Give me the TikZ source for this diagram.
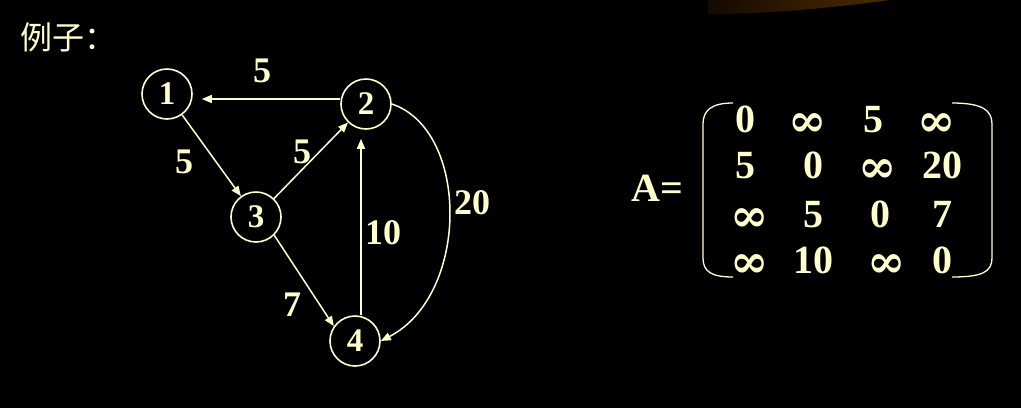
\documentclass[tikz,border=0pt]{standalone}
\usepackage{fontspec}
\setmainfont{Liberation Serif}
\newfontfamily\cjkfont{Noto Sans CJK SC}
\newfontfamily\inffont{DejaVu Serif}
\usetikzlibrary{arrows.meta,positioning}
\definecolor{cream}{HTML}{FFFFCC}
\definecolor{glowdark}{HTML}{140A00}
\definecolor{glowbrown}{HTML}{4E2A00}
\newcommand{\infs}{\raisebox{-4pt}{\inffont\bfseries\fontsize{46}{46}\selectfont ∞}}
\tikzset{
  vert/.style={circle,draw=cream,line width=1.6pt,text=cream,
    minimum size=50pt,inner sep=0pt,font=\fontsize{33}{33}\selectfont\bfseries},
  edgearr/.style={-{Triangle[length=10pt,width=8pt]},line width=1.5pt,color=cream},
  wlabel/.style={text=cream,inner sep=0pt,font=\fontsize{36}{36}\selectfont\bfseries},
  matentry/.style={text=cream,inner sep=0pt,anchor=base,font=\fontsize{40}{40}\selectfont\bfseries},
  brkline/.style={line width=1.3pt,color=cream},
}

\begin{document}
\begin{tikzpicture}[x=1pt,y=-1pt]
  \fill[black] (0,0) rectangle (1021,408);
  \useasboundingbox (0,0) rectangle (1021,408);
  % glow at the top
  \fill[left color=glowdark,right color=glowbrown]
    (708,0) -- (890,0) .. controls (830,8) and (770,14) .. (708,14) -- cycle;

  \node[text=cream,anchor=west,inner sep=0pt,font=\cjkfont\fontsize{32}{32}\selectfont] (title) at (20,37) {例子：};

  % graph
  \node[vert] (v1) at (167,94) {1};
  \node[vert] (v2) at (366,104) {2};
  \node[vert] (v3) at (256,217) {3};
  \node[vert] (v4) at (355,341) {4};

  \draw[edgearr] ([yshift=5pt]v2.west) -- ([xshift=9pt,yshift=-5pt]v1.east);
  \draw[edgearr] (v1) -- (v3);
  \draw[edgearr] (v3) -- (v2);
  \draw[edgearr] (v3.-45) -- (v4.145);
  \draw[edgearr] ([xshift=6pt]v4.north) -- ([xshift=-5pt,yshift=-9pt]v2.south);
  \draw[edgearr] (v2.east) .. controls +(78,26) and +(89,-46) .. (v4.east);

  \node[wlabel] (w21) at (262,71) {5};
  \node[wlabel] (w13) at (184,162) {5};
  \node[wlabel] (w32) at (302,152) {5};
  \node[wlabel] (w34) at (292,305) {7};
  \node[wlabel] (w42) at (383,233) {10};
  \node[wlabel] (w24) at (472,203) {20};

  % matrix
  \node[matentry] (aname) at (657,201) {A=};
  \foreach \x/\y/\t [count=\k] in {745/132/0, 808/132/\infs, 873/132/5, 937/132/\infs,
      745/178/5, 813/178/0, 878/178/\infs, 942/178/20,
      750/227/\infs, 813/227/5, 880/227/0, 942/227/7,
      750/273/\infs, 813/273/10, 887/273/\infs, 942/273/0}
    \node[matentry] (a\k) at (\x,\y) {\t};
  \draw[brkline] (733,103) .. controls (712,103) and (703,110) .. (703,124)
    -- (703,258) .. controls (703,272) and (712,277) .. (733,277);
  \draw[brkline] (952,103) .. controls (982,103) and (992,110) .. (992,124)
    -- (992,258) .. controls (992,272) and (982,277) .. (952,277);
\end{tikzpicture}
\end{document}
